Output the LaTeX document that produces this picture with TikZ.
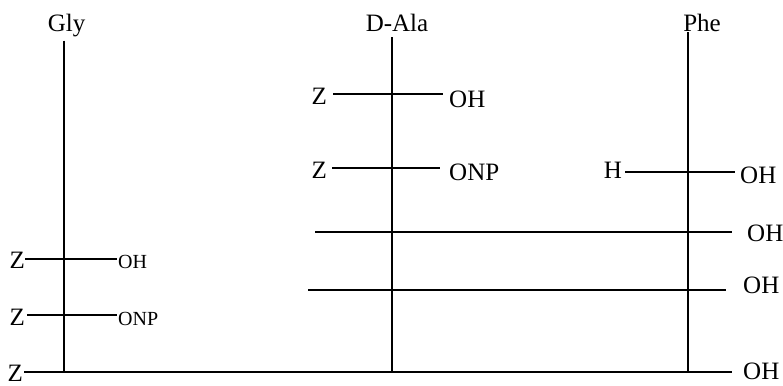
\documentclass[tikz,border=0pt]{standalone}
\usepackage{fontspec}
\setmainfont{Liberation Serif}
\tikzset{
  big/.style={font=\fontsize{25}{25}\selectfont, inner sep=0pt},
  small/.style={font=\fontsize{20}{20}\selectfont, inner sep=0pt},
  bond/.style={line width=2.5pt},
  stem/.style={line width=1.8pt}
}
\begin{document}
\begin{tikzpicture}[x=1pt,y=-1pt]
\useasboundingbox (0,0) rectangle (783,385);
% residue names and backbones
\node[big,anchor=base] (gly) at (66.5,32) {Gly};
\node[big,anchor=base] (ala) at (397,32) {D-Ala};
\node[big,anchor=base] (phe) at (702,32) {Phe};
\coordinate (gb) at (64,372);
\coordinate (ab) at (392,372);
\coordinate (pb) at (688,373);
\draw[stem,shorten <=3pt] (gly.south -| gb) -- (gb);
\draw[stem,shorten <=5pt] (ala.south -| ab) -- (ab);
\draw[stem] (phe.south -| pb) -- (pb);
% bottom row
\node[big,anchor=base east] (zb) at (23,381) {Z};
\node[big,anchor=base west] (ohb) at (743,379) {OH};
\coordinate (yb) at (0,372);
\draw[bond,shorten <=1pt,shorten >=11pt] (zb.east |- yb) -- (ohb.west |- yb);
% Gly
\node[big,anchor=base east] (gz1) at (25,268) {Z};
\node[small,anchor=base west] (goh1) at (118,268) {OH};
\coordinate (gy1) at (0,259);
\draw[bond,shorten >=1pt] (gz1.east |- gy1) -- (goh1.west |- gy1);
\node[big,anchor=base east] (gz2) at (25,325) {Z};
\node[small,anchor=base west] (gnp2) at (118,325) {ONP};
\coordinate (gy2) at (0,315);
\draw[bond,shorten <=2pt,shorten >=1pt] (gz2.east |- gy2) -- (gnp2.west |- gy2);
% D-Ala
\node[big,anchor=base east] (az1) at (327,104) {Z};
\node[big,anchor=base west] (aoh1) at (449,107) {OH};
\coordinate (ay1) at (0,94);
\draw[bond,shorten <=6pt,shorten >=6pt] (az1.east |- ay1) -- (aoh1.west |- ay1);
\node[big,anchor=base east] (az2) at (327,178) {Z};
\node[big,anchor=base west] (anp2) at (449,180) {ONP};
\coordinate (ay2) at (0,168);
\draw[bond,shorten <=5pt,shorten >=9pt] (az2.east |- ay2) -- (anp2.west |- ay2);
% Phe
\node[big,anchor=base east] (ph) at (622,178) {H};
\node[big,anchor=base west] (poh) at (740,183) {OH};
\coordinate (py) at (0,172);
\draw[bond,shorten <=3pt,shorten >=5pt] (ph.east |- py) -- (poh.west |- py);
% long rows
\node[big,anchor=base west] (oh3) at (747,241) {OH};
\coordinate (c3) at (315,232);
\draw[bond,shorten >=15pt] (c3) -- (oh3.west |- c3);
\node[big,anchor=base west] (oh4) at (743,293) {OH};
\coordinate (c4) at (308,290);
\draw[bond,shorten >=17pt] (c4) -- (oh4.west |- c4);
\end{tikzpicture}
\end{document}
